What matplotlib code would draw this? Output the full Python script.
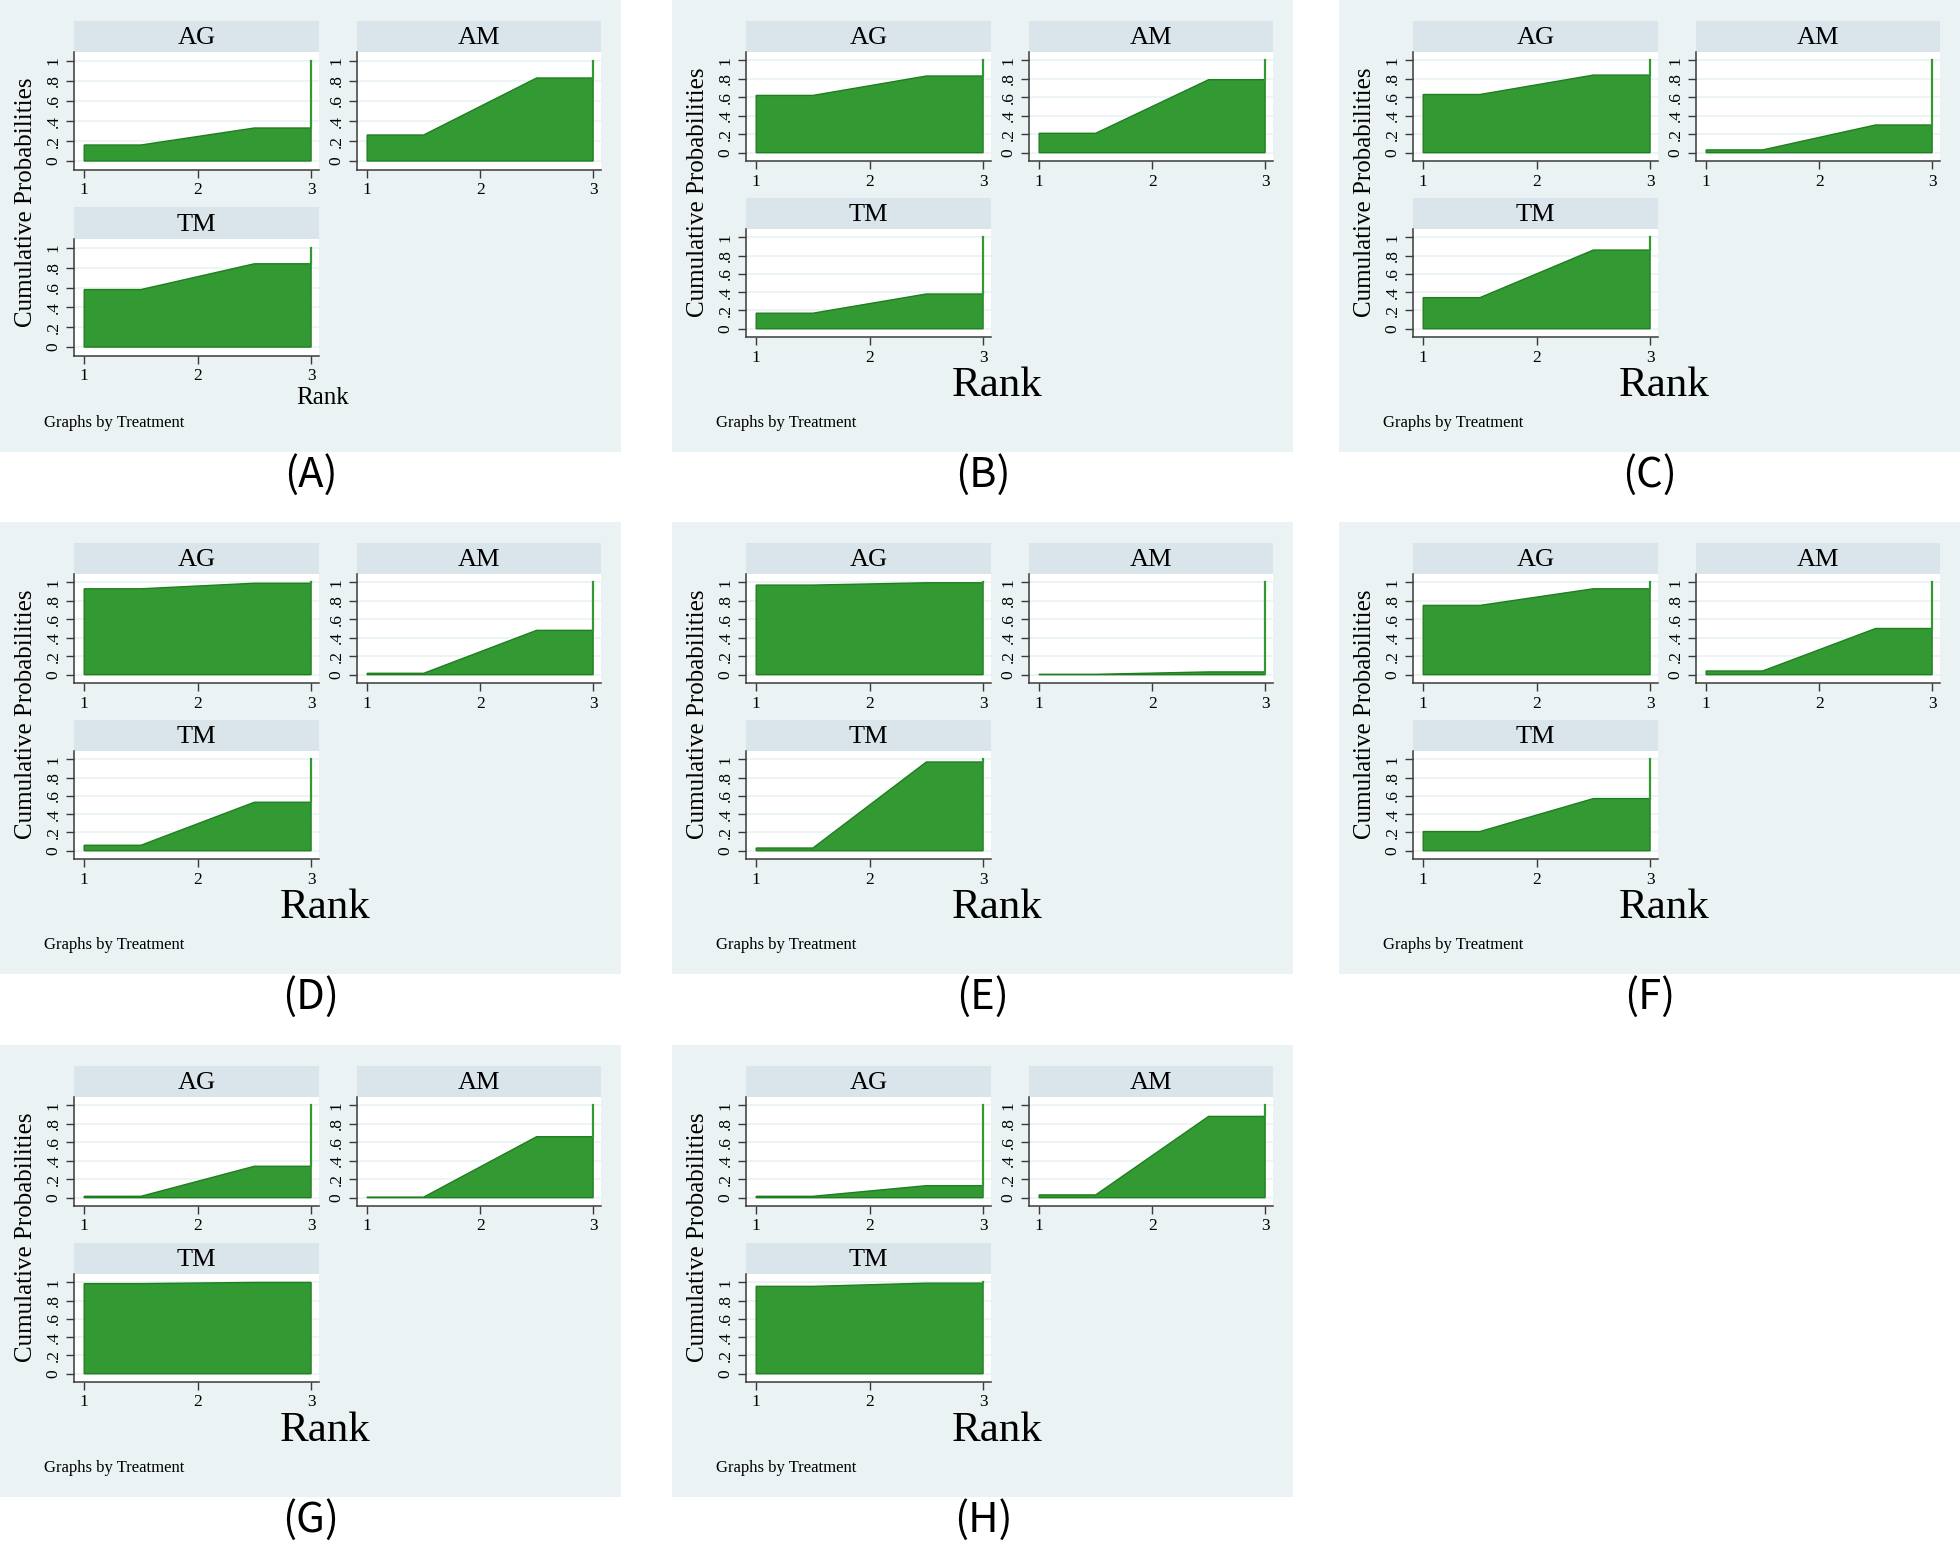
import matplotlib
matplotlib.use("Agg")
import matplotlib.pyplot as plt
from matplotlib.patches import Rectangle

# ---------------- data ----------------
panel_labels = ["(A)", "(B)", "(C)", "(D)", "(E)", "(F)", "(G)", "(H)"]
treatments = ["AG", "AM", "TM"]
ranks = [1, 2, 3]
y_ticks = [0, 0.2, 0.4, 0.6, 0.8, 1.0]
y_tick_labels = ["0", ".2", ".4", ".6", ".8", "1"]
x_ticks = [1, 2, 3]
x_tick_labels = ["1", "2", "3"]

# cumulative probability of being within rank 1 and within rank 2 (rank 3 = 1)
AG_cum_rank1 = [0.16, 0.62, 0.63, 0.93, 0.97, 0.75, 0.015, 0.015]
AG_cum_rank2 = [0.33, 0.83, 0.84, 0.99, 0.995, 0.93, 0.34, 0.13]
AM_cum_rank1 = [0.26, 0.21, 0.03, 0.015, 0.004, 0.04, 0.006, 0.03]
AM_cum_rank2 = [0.83, 0.79, 0.30, 0.48, 0.03, 0.50, 0.66, 0.88]
TM_cum_rank1 = [0.58, 0.17, 0.34, 0.06, 0.03, 0.21, 0.985, 0.955]
TM_cum_rank2 = [0.84, 0.38, 0.86, 0.53, 0.97, 0.57, 0.998, 0.99]
cum_rank3 = 1.0

cum1 = {"AG": AG_cum_rank1, "AM": AM_cum_rank1, "TM": TM_cum_rank1}
cum2 = {"AG": AG_cum_rank2, "AM": AM_cum_rank2, "TM": TM_cum_rank2}

# ---------------- style ----------------
W, H = 1960, 1544
BG = "#EAF2F3"
STRIP = "#D9E5EA"
GRID = "#EAF2F3"
FILL = "#339933"
EDGE = "#1F7F1F"
AX = "#3A3A3A"
SERIF = ["Liberation Serif", "DejaVu Serif"]

fig = plt.figure(figsize=(W / 100, H / 100), dpi=100)
fig.patch.set_facecolor("white")


def frac(x0, y0, x1, y1):
    return [x0 / W, 1 - y1 / H, (x1 - x0) / W, (y1 - y0) / H]


col_x = [0, 672, 1339]
row_y = [0, 522, 1045]
PW, PH = 621, 452


def draw_sub(px, py, i, trt, col, row, small):
    xl = px + (74 if col == 0 else 357)
    xr = px + (319 if col == 0 else 601)
    if small:
        strip = [(21, 52), (207, 239)][row]
        plot = [(52, 170), (239, 356)][row]
    else:
        strip = [(21, 52), (198, 229)][row]
        plot = [(52, 161), (229, 337)][row]
    sax = fig.add_axes(frac(xl, py + strip[0], xr, py + strip[1]))
    sax.set_facecolor(STRIP)
    sax.set_xticks([]); sax.set_yticks([])
    for s in sax.spines.values():
        s.set_visible(False)
    sax.text(0.5, 0.45, trt, ha="center", va="center", fontsize=19,
             family=SERIF, color="black", transform=sax.transAxes)

    ax = fig.add_axes(frac(xl, py + plot[0], xr, py + plot[1]))
    ax.set_facecolor("white")
    p1 = cum1[trt][i]
    p2 = cum2[trt][i]
    xs = [ranks[0], (ranks[0] + ranks[1]) / 2, (ranks[1] + ranks[2]) / 2, ranks[2]]
    ys = [p1, p1, p2, p2]
    for yt in y_ticks:
        ax.axhline(yt, color=GRID, lw=1.2, zorder=0)
    ax.fill(xs + [xs[-1], xs[0]], ys + [0, 0], facecolor=FILL, edgecolor=EDGE,
            lw=1.0, zorder=2)
    ax.plot([ranks[2], ranks[2]], [p2, cum_rank3], color=FILL, lw=1.6, zorder=3)
    ax.set_xlim(0.91, 3.07)
    ax.set_ylim(-0.09, 1.09)
    ax.set_yticks(y_ticks)
    ax.set_yticklabels(y_tick_labels, rotation=90, va="center", family=SERIF, fontsize=12.5)
    ax.set_xticks(x_ticks)
    ax.set_xticklabels(x_tick_labels, family=SERIF, fontsize=12.5)
    ax.tick_params(axis="both", direction="out", length=6, width=1, color=AX,
                   labelcolor="black", pad=3)
    ax.spines["top"].set_visible(False)
    ax.spines["right"].set_visible(False)
    for s in ("left", "bottom"):
        ax.spines[s].set_color(AX)
        ax.spines[s].set_linewidth(1.1)


for i, lab in enumerate(panel_labels):
    r, c = divmod(i, 3)
    px, py = col_x[c], row_y[r]
    small = (i == 0)
    fig.add_artist(Rectangle((px / W, 1 - (py + PH) / H), PW / W, PH / H,
                             transform=fig.transFigure, facecolor=BG,
                             edgecolor="none", zorder=-5))
    for k, trt in enumerate(treatments):
        draw_sub(px, py, i, trt, k % 2, k // 2, small)
    # y label
    fig.text((px + 26) / W, 1 - (py + (202 if small else 192)) / H,
             "Cumulative Probabilities", rotation=90, ha="center", va="center",
             fontsize=18, family=SERIF)
    # x label
    if small:
        fig.text((px + 323) / W, 1 - (py + 398) / H, "Rank", ha="center",
                 va="center", fontsize=18, family=SERIF)
    else:
        fig.text((px + 325) / W, 1 - (py + 386) / H, "Rank", ha="center",
                 va="center", fontsize=31, family=SERIF)
    fig.text((px + 44) / W, 1 - (py + 423) / H, "Graphs by Treatment",
             ha="left", va="center", fontsize=12, family=SERIF)
    fig.text((px + 311) / W, 1 - (py + PH + 23) / H, lab, ha="center",
             va="center", fontsize=30, fontweight=500,
             family=["Noto Sans CJK SC", "DejaVu Sans"])

fig.savefig("out.png", dpi=100, facecolor="white")
